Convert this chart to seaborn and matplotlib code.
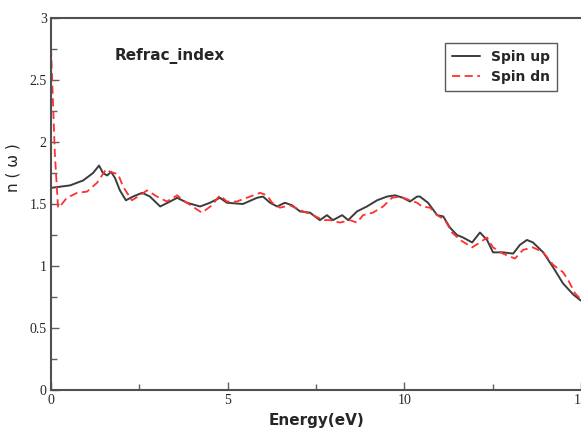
import matplotlib
matplotlib.use("Agg")
import matplotlib.pyplot as plt
import seaborn as sns
import pandas as pd
from matplotlib.ticker import MultipleLocator

# ---- data ----
energy_up = [0.00, 0.54, 0.91, 1.19, 1.36, 1.47, 1.59, 1.70, 1.81, 1.95, 2.12, 2.32,
             2.58, 2.80, 3.09, 3.37, 3.57, 3.85, 4.22, 4.50, 4.78, 4.98, 5.43, 5.83,
             6.00, 6.20, 6.40, 6.62, 6.82, 7.05, 7.33, 7.61, 7.81, 7.98, 8.24, 8.41,
             8.66, 8.94, 9.23, 9.51, 9.74, 9.96, 10.16, 10.36, 10.44, 10.67, 10.93,
             11.10, 11.29, 11.49, 11.66, 11.92, 12.14, 12.34, 12.51, 12.79, 13.08,
             13.27, 13.47, 13.64, 13.93, 14.21, 14.49, 14.78, 15.00]
n_up = [1.63, 1.65, 1.69, 1.75, 1.81, 1.75, 1.73, 1.76, 1.71, 1.61, 1.53, 1.56,
        1.59, 1.56, 1.48, 1.52, 1.55, 1.51, 1.48, 1.51, 1.55, 1.51, 1.50, 1.55,
        1.56, 1.51, 1.48, 1.51, 1.49, 1.44, 1.43, 1.37, 1.41, 1.37, 1.41, 1.37,
        1.44, 1.48, 1.53, 1.56, 1.57, 1.55, 1.52, 1.56, 1.56, 1.51, 1.41,
        1.40, 1.31, 1.25, 1.23, 1.19, 1.27, 1.21, 1.11, 1.11, 1.10,
        1.17, 1.21, 1.19, 1.11, 0.99, 0.86, 0.77, 0.72]

energy_dn = [0.00, 0.11, 0.20, 0.25, 0.45, 0.74, 1.02, 1.30, 1.56, 1.67, 1.90, 2.04,
             2.29, 2.46, 2.72, 3.00, 3.28, 3.57, 3.79, 4.27, 4.56, 4.78, 4.98, 5.26,
             5.63, 5.92, 6.11, 6.26, 6.48, 6.76, 7.05, 7.42, 7.70, 7.90, 8.18, 8.46,
             8.66, 8.83, 9.11, 9.40, 9.65, 9.88, 10.16, 10.36, 10.50, 10.73, 10.93,
             11.15, 11.35, 11.58, 11.92, 12.14, 12.34, 12.51, 12.79, 13.13, 13.36,
             13.64, 13.93, 14.21, 14.49, 14.63, 14.83, 15.00]
n_dn = [2.76, 1.90, 1.47, 1.48, 1.55, 1.59, 1.60, 1.67, 1.78, 1.76, 1.74, 1.64,
        1.53, 1.56, 1.61, 1.56, 1.52, 1.57, 1.52, 1.43, 1.49, 1.57, 1.52, 1.52,
        1.56, 1.59, 1.57, 1.51, 1.47, 1.49, 1.45, 1.41, 1.37, 1.37, 1.35, 1.37,
        1.35, 1.41, 1.43, 1.48, 1.55, 1.56, 1.53, 1.51, 1.48, 1.47, 1.41,
        1.37, 1.27, 1.21, 1.15, 1.19, 1.23, 1.15, 1.10, 1.06, 1.13,
        1.15, 1.11, 1.01, 0.95, 0.89, 0.78, 0.73]

series_labels = ["Spin up", "Spin dn"]
title_text = "Refrac_index"
x_label = "Energy(eV)"
y_label = "n ( \u03c9 )"

df_up = pd.DataFrame({"Energy": energy_up, "n": n_up})
df_dn = pd.DataFrame({"Energy": energy_dn, "n": n_dn})

sns.set_style("white")
plt.rcParams["font.family"] = ["DejaVu Sans"]

fig = plt.figure(figsize=(5.81, 4.28), dpi=100)
ax = fig.add_axes([51/581, 1 - 390/428, 530/581, 372/428])

sns.lineplot(data=df_up, x="Energy", y="n", ax=ax, color="#3c3c3c", lw=1.4,
             sort=False, estimator=None, label=series_labels[0])
sns.lineplot(data=df_dn, x="Energy", y="n", ax=ax, color="#ff3030", lw=1.3,
             sort=False, estimator=None, label=series_labels[1], linestyle=(0, (4.5, 2.5)))

ax.set_xlim(0, 15)
ax.set_ylim(0, 3)
ax.xaxis.set_minor_locator(MultipleLocator(2.5))
ax.yaxis.set_minor_locator(MultipleLocator(0.25))
ax.set_xticks([0, 5, 10, 15])
ax.set_xticklabels(["0", "5", "10", "15"])
ax.set_yticks([0, 0.5, 1, 1.5, 2, 2.5, 3])
ax.set_yticklabels(["0", "0.5", "1", "1.5", "2", "2.5", "3"])
ax.tick_params(which="major", direction="in", length=6, width=1, color="#606060",
               labelsize=10, pad=3)
ax.tick_params(which="minor", direction="in", length=4, width=1, color="#606060")
ax.tick_params(axis="both", which="both", bottom=True, left=True, top=False, right=False)
for lab in ax.get_xticklabels() + ax.get_yticklabels():
    lab.set_family("Liberation Serif")

for sp in ax.spines.values():
    sp.set_color("#505050")
    sp.set_linewidth(1.5)
ax.spines["right"].set_visible(False)

ax.set_xlabel(x_label, fontsize=11, fontweight="bold", labelpad=4)
ax.set_ylabel(y_label, fontsize=11, labelpad=4)
ax.yaxis.set_label_coords(-0.058, 0.597)

ax.text(1.81, 2.69, title_text, fontsize=11, fontweight="bold", va="center", ha="left")

leg = ax.legend(loc="upper right", bbox_to_anchor=(0.955, 0.933), frameon=True,
                fancybox=False, edgecolor="#303030", handlelength=2.0,
                borderpad=0.5, labelspacing=0.45, handletextpad=0.8,
                borderaxespad=0.0, prop={"weight": "bold", "size": 10})
leg.get_frame().set_linewidth(1.0)

fig.savefig("out.png", dpi=100)
